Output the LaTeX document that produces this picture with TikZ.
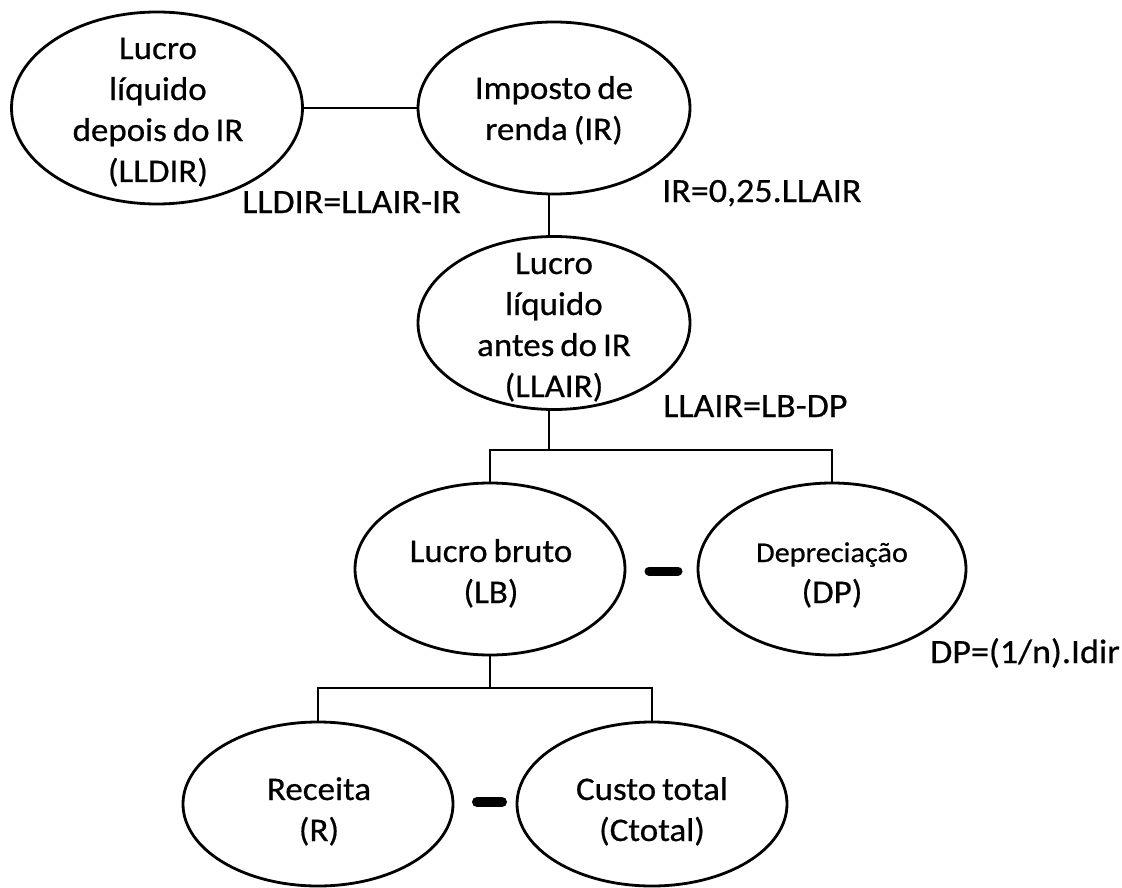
\documentclass[tikz,border=0pt]{standalone}
\usepackage{fontspec}
\setmainfont{Carlito}[FakeStretch=1.06, WordSpace=0.75, FakeBold=0.6]
\usetikzlibrary{shapes.geometric}
\begin{document}
\begin{tikzpicture}[x=1pt,y=-1pt,
  oval/.style={ellipse, draw, line width=2.8pt, inner sep=0pt},
  conn/.style={line width=1.6pt},
  ntext/.style={align=center, inner sep=0pt, anchor=base, font=\fontsize{33}{41}\selectfont},
  eqlabel/.style={anchor=base west, inner sep=0pt, font=\fontsize{34}{40}\selectfont},
  minusbar/.style={line width=9pt, line cap=round}]
\useasboundingbox (0,0) rectangle (1122,888);
% ellipses
\node[oval, minimum width=291pt, minimum height=192pt] (lldir) at (157,108) {};
\node[oval, minimum width=272pt, minimum height=172pt] (ir) at (554,108) {};
\node[oval, minimum width=272pt, minimum height=173pt] (llair) at (554,323) {};
\node[oval, minimum width=270pt, minimum height=172pt] (lb) at (490,569) {};
\node[oval, minimum width=268pt, minimum height=172pt] (dp) at (832,569) {};
\node[oval, minimum width=270pt, minimum height=164pt] (rec) at (318,804) {};
\node[oval, minimum width=270pt, minimum height=164pt] (cus) at (652,804) {};
% texts (anchor = baseline of last line)
\node[ntext] (tlldir) at (158,182) {Lucro\\líquido\\depois do IR\\(LLDIR)};
\node[ntext] (tir) at (554,140) {Imposto de\\renda (IR)};
\node[ntext] (tllair) at (554,397) {Lucro\\líquido\\antes do IR\\(LLAIR)};
\node[ntext] (tlb) at (491,603) {Lucro bruto\\(LB)};
\node[ntext] (tdp) at (832,603) {{\fontsize{28.5}{41}\selectfont Depreciação}\\(DP)};
\node[ntext] (trec) at (319,841) {Receita\\(R)};
\node[ntext] (tcus) at (652,841) {Custo total\\(Ctotal)};
% equations
\node[eqlabel] (e1) at (242,213) {LLDIR=LLAIR-IR};
\node[eqlabel] (e2) at (662,202) {IR=0,25.LLAIR};
\node[eqlabel] (e3) at (663,417) {LLAIR=LB-DP};
\node[eqlabel] (e4) at (930,663) {DP=(1/n).Idir};
% connectors
\draw[conn] (lldir) -- (ir);
\coordinate (irb) at (549,193);
\coordinate (j1) at (549,450);
\draw[conn] (irb) -- (irb |- llair.north);
\draw[conn] (j1 |- llair.south) -- (j1);
\draw[conn] (lb.north) |- (j1) -| (dp.north);
\coordinate (j2) at (490,688);
\draw[conn] (lb.south) -- (j2);
\draw[conn] (rec.north) |- (j2) -| (cus.north);
% minus signs
\coordinate (m1a) at (649,571);
\coordinate (m1b) at (678,571);
\draw[minusbar] (m1a) -- (m1b);
\coordinate (m2a) at (477,802);
\coordinate (m2b) at (502,802);
\draw[minusbar, line width=10pt] (m2a) -- (m2b);
\end{tikzpicture}
\end{document}
